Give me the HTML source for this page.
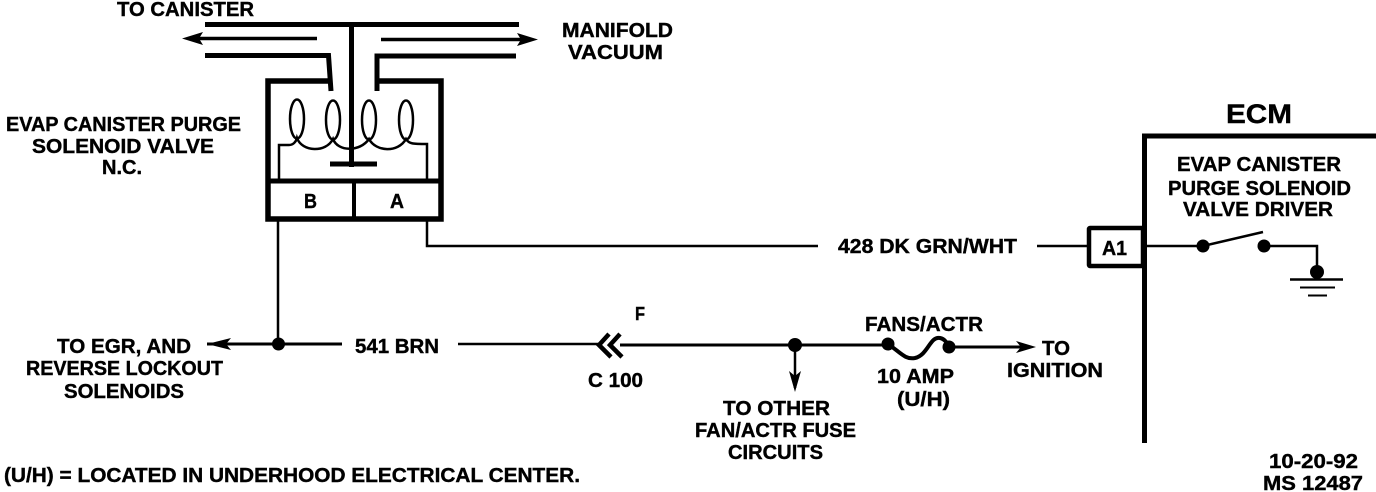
<!DOCTYPE html>
<html><head><meta charset="utf-8"><style>
html,body{margin:0;padding:0;background:#fff;width:1376px;height:492px;overflow:hidden}
svg{display:block}
text{font-family:"Liberation Sans",sans-serif;font-weight:bold;font-size:20px;fill:#000;stroke:#000;stroke-width:.4}
</style></head><body>
<svg width="1376" height="492" viewBox="0 0 1376 492">
<g fill="none" stroke="#000" stroke-linecap="butt">
<!-- vacuum tubes -->
<path d="M205 24.5H519" stroke-width="5"/>
<path d="M351.5 24V167" stroke-width="5"/>
<path d="M330 164H377" stroke-width="5"/>
<path d="M205 55.5H328.5L331 91" stroke-width="5"/>
<path d="M516 56H377V91" stroke-width="5"/>
<path d="M196 38.5H317" stroke-width="3.5"/>
<path d="M381 39.5H525" stroke-width="3.5"/>
<!-- valve box -->
<path d="M331 81H268V219H441V81H377" stroke-width="5.5"/>
<path d="M268 181H441" stroke-width="5"/>
<path d="M354 181V219" stroke-width="4"/>
<!-- coils -->
<g stroke-width="2.5">
<ellipse cx="297" cy="119" rx="7" ry="19.5"/>
<ellipse cx="333" cy="120" rx="7" ry="19.5"/>
<ellipse cx="369" cy="120" rx="7" ry="19.5"/>
<ellipse cx="406" cy="120" rx="7" ry="19.5"/>
<path d="M279 181V145H289C293 145 296 142 297 138C302 152 326 153 333 139C338 152 360 152 369 139C376 152 398 153 406 139C409 144 413 144 427 144V181"/>
</g>
<!-- wires -->
<path d="M278 220V344" stroke-width="2.5"/>
<path d="M427 220V246H818" stroke-width="2.5"/>
<path d="M1037 246H1088" stroke-width="2.5"/>
<path d="M207 344H342" stroke-width="3"/>
<path d="M458 344H600" stroke-width="2.5"/>
<path d="M620 345H888" stroke-width="3"/>
<path d="M795 345V388" stroke-width="2.5"/>
<path d="M888 344C900 352 905 360 915 358C928 355 930 336 940 338C945 339 947 343 949 347" stroke-width="4"/>
<path d="M949 347H1024" stroke-width="3"/>
<!-- chevrons -->
<path d="M609 334L599 345L611 357M620 334L610 345L622 357" stroke-width="4.5"/>
<!-- ECM -->
<path d="M1376 136H1144.5V443" stroke-width="5"/>
<rect x="1089" y="228" width="54" height="38" stroke-width="4.5" rx="1" fill="#fff"/>
<path d="M1146 246H1203L1263 232M1264 246H1317V272" stroke-width="2.5"/>
<path d="M1290 279.5H1343" stroke-width="2.5"/>
<path d="M1300 287.5H1335" stroke-width="2"/>
<path d="M1308 295.5H1327" stroke-width="2"/>
</g>
<g fill="#000">
<circle cx="278.5" cy="344" r="6.5"/>
<circle cx="795" cy="345" r="7"/>
<circle cx="888" cy="344" r="6.5"/>
<circle cx="949" cy="347" r="6.5"/>
<circle cx="1203" cy="246" r="6.5"/>
<circle cx="1264" cy="246" r="6.5"/>
<circle cx="1317" cy="272" r="7"/>
<path d="M182 38.5L203 32L199 38.5L203 45Z"/>
<path d="M538 39.5L517 33L521 39.5L517 46Z"/>
<path d="M207 344L231 338L226 344L231 350Z"/>
<path d="M795 392L789 371L795 376L801 371Z"/>
<path d="M1036 347L1016 341L1021 347L1016 353Z"/>
</g>
<text x="117" y="16" textLength="137" lengthAdjust="spacingAndGlyphs">TO CANISTER</text>
<text x="562" y="37" textLength="111" lengthAdjust="spacingAndGlyphs">MANIFOLD</text>
<text x="568" y="59" textLength="95" lengthAdjust="spacingAndGlyphs">VACUUM</text>
<text x="6" y="131" textLength="235" lengthAdjust="spacingAndGlyphs">EVAP CANISTER PURGE</text>
<text x="32" y="153" textLength="182" lengthAdjust="spacingAndGlyphs">SOLENOID VALVE</text>
<text x="102" y="174" textLength="40" lengthAdjust="spacingAndGlyphs">N.C.</text>
<text x="304" y="208" textLength="13" lengthAdjust="spacingAndGlyphs">B</text>
<text x="390" y="208" textLength="14" lengthAdjust="spacingAndGlyphs">A</text>
<text x="1226" y="123" textLength="66" lengthAdjust="spacingAndGlyphs" style="font-size:27px">ECM</text>
<text x="1177" y="171" textLength="164" lengthAdjust="spacingAndGlyphs">EVAP CANISTER</text>
<text x="1168" y="195" textLength="183" lengthAdjust="spacingAndGlyphs">PURGE SOLENOID</text>
<text x="1183" y="216" textLength="150" lengthAdjust="spacingAndGlyphs">VALVE DRIVER</text>
<text x="1102" y="255" textLength="25" lengthAdjust="spacingAndGlyphs">A1</text>
<text x="838" y="253" textLength="179" lengthAdjust="spacingAndGlyphs">428 DK GRN/WHT</text>
<text x="57" y="353" textLength="134" lengthAdjust="spacingAndGlyphs">TO EGR, AND</text>
<text x="26" y="375" textLength="197" lengthAdjust="spacingAndGlyphs">REVERSE LOCKOUT</text>
<text x="64" y="398" textLength="120" lengthAdjust="spacingAndGlyphs">SOLENOIDS</text>
<text x="355" y="353" textLength="84" lengthAdjust="spacingAndGlyphs">541 BRN</text>
<text x="635" y="320" textLength="10" lengthAdjust="spacingAndGlyphs" style="font-size:18px">F</text>
<text x="588" y="387" textLength="55" lengthAdjust="spacingAndGlyphs">C 100</text>
<text x="865" y="331" textLength="118" lengthAdjust="spacingAndGlyphs">FANS/ACTR</text>
<text x="877" y="383" textLength="77" lengthAdjust="spacingAndGlyphs">10 AMP</text>
<text x="897" y="406" textLength="53" lengthAdjust="spacingAndGlyphs">(U/H)</text>
<text x="1042" y="355" textLength="28" lengthAdjust="spacingAndGlyphs">TO</text>
<text x="1007" y="377" textLength="96" lengthAdjust="spacingAndGlyphs">IGNITION</text>
<text x="723" y="415" textLength="107" lengthAdjust="spacingAndGlyphs">TO OTHER</text>
<text x="695" y="437" textLength="161" lengthAdjust="spacingAndGlyphs">FAN/ACTR FUSE</text>
<text x="728" y="459" textLength="95" lengthAdjust="spacingAndGlyphs">CIRCUITS</text>
<text x="4" y="482" textLength="576" lengthAdjust="spacingAndGlyphs">(U/H) = LOCATED IN UNDERHOOD ELECTRICAL CENTER.</text>
<text x="1269" y="468" textLength="89" lengthAdjust="spacingAndGlyphs">10-20-92</text>
<text x="1263" y="490" textLength="100" lengthAdjust="spacingAndGlyphs">MS 12487</text>
</svg>
</body></html>
